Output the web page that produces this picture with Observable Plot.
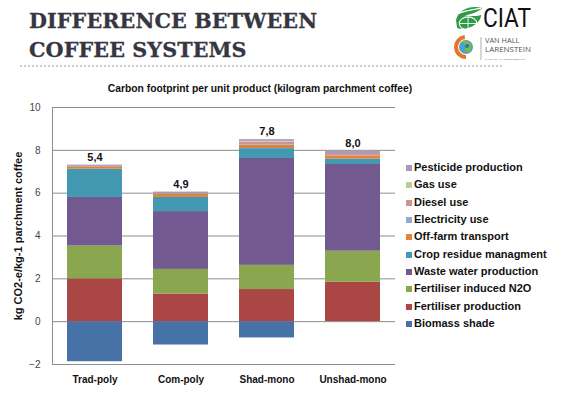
<!DOCTYPE html>
<html>
<head>
<meta charset="utf-8">
<script src="https://cdn.jsdelivr.net/npm/d3@7"></script>
<script src="https://cdn.jsdelivr.net/npm/@observablehq/plot@0.6"></script>
<style>
  html, body { margin: 0; padding: 0; background: #fff; }
  #page { position: relative; width: 564px; height: 393px; overflow: hidden; font-family: "Liberation Sans", Arial, sans-serif; }
  #header { position: relative; width: 564px; height: 80px; }
  #title { position: absolute; left: 29px; top: 7px; font-family: "DejaVu Serif", serif; font-weight: bold; font-size: 20.7px; line-height: 29px; color: #363642; letter-spacing: 0.1px; -webkit-text-stroke: 0.3px #363642; }
  #dots { position: absolute; left: 20px; top: 65px; width: 482px; border-top: 2px dotted #c9cfd8; }
  #ctitle { position: absolute; left: 0; width: 520px; text-align: center; top: 83px; font-size: 10.3px; font-weight: bold; color: #111; }
  #legend { position: absolute; left: 406px; top: 160px; font-size: 11px; font-weight: bold; color: #111; }
  .li { height: 17.35px; line-height: 15px; white-space: nowrap; }
  .sw { display: inline-block; width: 6px; height: 6px; margin-right: 2px; vertical-align: 0px; }
  #chart { position: absolute; left: 0; top: 80px; }
</style>
</head>
<body>
<div id="page">
  <div id="header">
    <div id="title">DIFFERENCE BETWEEN<br>COFFEE SYSTEMS</div>
    <div id="dots"></div>
    <svg id="logos" width="90" height="62" style="position:absolute;left:452px;top:4px" xmlns="http://www.w3.org/2000/svg">
      <!-- CIAT leaf/globe -->
      <g transform="translate(4,3) scale(1.1)">
        <path d="M0,12 C2,2 14,-2 24,1 C20,5 14,6 8,8 C14,8 19,9 23,7 C22,16 10,22 1,19 Z" fill="#2f9b48"/>
        <ellipse cx="11" cy="15" rx="8" ry="6" fill="none" stroke="#ffffff" stroke-width="1"/>
        <line x1="3" y1="15" x2="19" y2="15" stroke="#fff" stroke-width="0.8"/>
        <line x1="11" y1="9" x2="11" y2="21" stroke="#fff" stroke-width="0.8"/>
        <path d="M2,6 C8,3 16,2 23,1" stroke="#fff" stroke-width="1.2" fill="none"/>
      </g>
      <text x="31" y="23" font-family="Roboto, 'Liberation Sans', sans-serif" font-size="25" textLength="48" lengthAdjust="spacingAndGlyphs" fill="#111">CIAT</text>
      <!-- Van Hall Larenstein -->
      <g transform="translate(14,43)">
        <circle r="10" fill="none" stroke="#e8752a" stroke-width="4" stroke-dasharray="30 40" transform="rotate(90)"/>
        <circle r="7" fill="#4aa3c8"/>
        <path d="M-4,-6 C4,-8 8,-1 4,4 C1,7 -3,3 0,0 Z" fill="#7bb844"/>
        <circle cx="1" cy="-1" r="2" fill="#2f6fa8"/>
      </g>
      <line x1="29" y1="33" x2="29" y2="56" stroke="#9a9a9a" stroke-width="0.8"/>
      <text x="33" y="38.5" font-family="'Open Sans', 'Liberation Sans', sans-serif" font-size="7.4" fill="#555">VAN HALL</text>
      <text x="33" y="48" font-family="'Open Sans', 'Liberation Sans', sans-serif" font-size="7.4" fill="#555" textLength="46" lengthAdjust="spacingAndGlyphs">LARENSTEIN</text>
      <text x="33" y="55.5" font-family="'Liberation Sans', sans-serif" font-size="2.5" fill="#777" textLength="40" lengthAdjust="spacingAndGlyphs">PART OF WAGENINGEN UR</text>
    </svg>
  </div>
  <div id="ctitle">Carbon footprint per unit product (kilogram parchment coffee)</div>
  <div id="chart"></div>
  <div id="legend"></div>
</div>
<script>
// ---- Data ----
const systems = ["Trad-poly", "Com-poly", "Shad-mono", "Unshad-mono"];
const netLabels = ["5,4", "4,9", "7,8", "8,0"];
const sources = ["Biomass shade", "Fertiliser production", "Fertiliser induced N2O", "Waste water production",
                 "Crop residue managment", "Off-farm transport", "Electricity use", "Diesel use", "Gas use", "Pesticide production"];
const colors = ["#4672a8", "#aa4643", "#8aa64f", "#72598f", "#4299b1", "#dc843d", "#93a9cf", "#d19392", "#b9cd96", "#a99bbd"];
// values per source, in order of systems
const biomassShade   = [-1.87, -1.09, -0.76, 0.00];
const fertProduction = [ 2.00,  1.29,  1.50, 1.84];
const fertN2O        = [ 1.53,  1.15,  1.13, 1.45];
const wasteWater     = [ 2.27,  2.70,  4.99, 4.05];
const cropResidue    = [ 1.32,  0.66,  0.46, 0.25];
const offFarm        = [ 0.11,  0.15,  0.16, 0.14];
const electricity    = [ 0.00,  0.00,  0.03, 0.00];
const diesel         = [ 0.02,  0.02,  0.12, 0.12];
const gas            = [ 0.00,  0.00,  0.03, 0.00];
const pesticide      = [ 0.06,  0.08,  0.08, 0.11];
const yTicks = [-2, 0, 2, 4, 6, 8, 10];
const yLabel = "kg CO2-e/kg-1 parchment coffee";

// ---- Build table ----
const seriesValues = [biomassShade, fertProduction, fertN2O, wasteWater, cropResidue, offFarm, electricity, diesel, gas, pesticide];
const rows = [];
sources.forEach((s, i) => systems.forEach((c, j) => rows.push({system: c, source: s, value: seriesValues[i][j]})));
const totals = systems.map((c, j) => ({
  system: c,
  label: netLabels[j],
  top: d3.sum(seriesValues, v => Math.max(0, v[j]))
}));

const chart = Plot.plot({
  width: 564,
  height: 313,
  marginLeft: 52,
  marginRight: 169,
  marginTop: 27,
  marginBottom: 29,
  style: {fontFamily: "'Liberation Sans', Arial, sans-serif", background: "transparent", overflow: "visible"},
  x: {domain: systems, paddingInner: 0.36, paddingOuter: 0.171, label: null},
  y: {domain: [-2, 10], label: null},
  color: {domain: sources, range: colors},
  marks: [
    Plot.ruleY(yTicks, {stroke: "#8d8d8d", strokeWidth: 1}),
    Plot.frame({anchor: "left", stroke: "#8d8d8d"}),
    Plot.barY(rows, {x: "system", y: "value", fill: "source", order: sources, inset: 0}),
    Plot.text(totals, {x: "system", y: "top", text: "label", dy: -8, fontSize: 11, fontWeight: "bold", fill: "#111"}),
    Plot.axisY({ticks: yTicks, tickSize: 0, tickPadding: 12, fontSize: 10, fill: "#444", label: null}),
    Plot.axisX({tickSize: 0, tickPadding: 11, fontSize: 10, fontWeight: "bold", fill: "#111", label: null}),
    Plot.text([yLabel], {frameAnchor: "left", textAnchor: "middle", rotate: -90, dx: -34, fontSize: 11, fontWeight: "bold", fill: "#111"})
  ]
});
document.getElementById("chart").appendChild(chart);

// ---- Legend (top item = last series) ----
const legend = document.getElementById("legend");
const color = chart.scale("color");
sources.slice().reverse().forEach(s => {
  const div = document.createElement("div");
  div.className = "li";
  const sw = document.createElement("span");
  sw.className = "sw";
  sw.style.background = color.apply(s);
  div.appendChild(sw);
  div.appendChild(document.createTextNode(s));
  legend.appendChild(div);
});
</script>
</body>
</html>
